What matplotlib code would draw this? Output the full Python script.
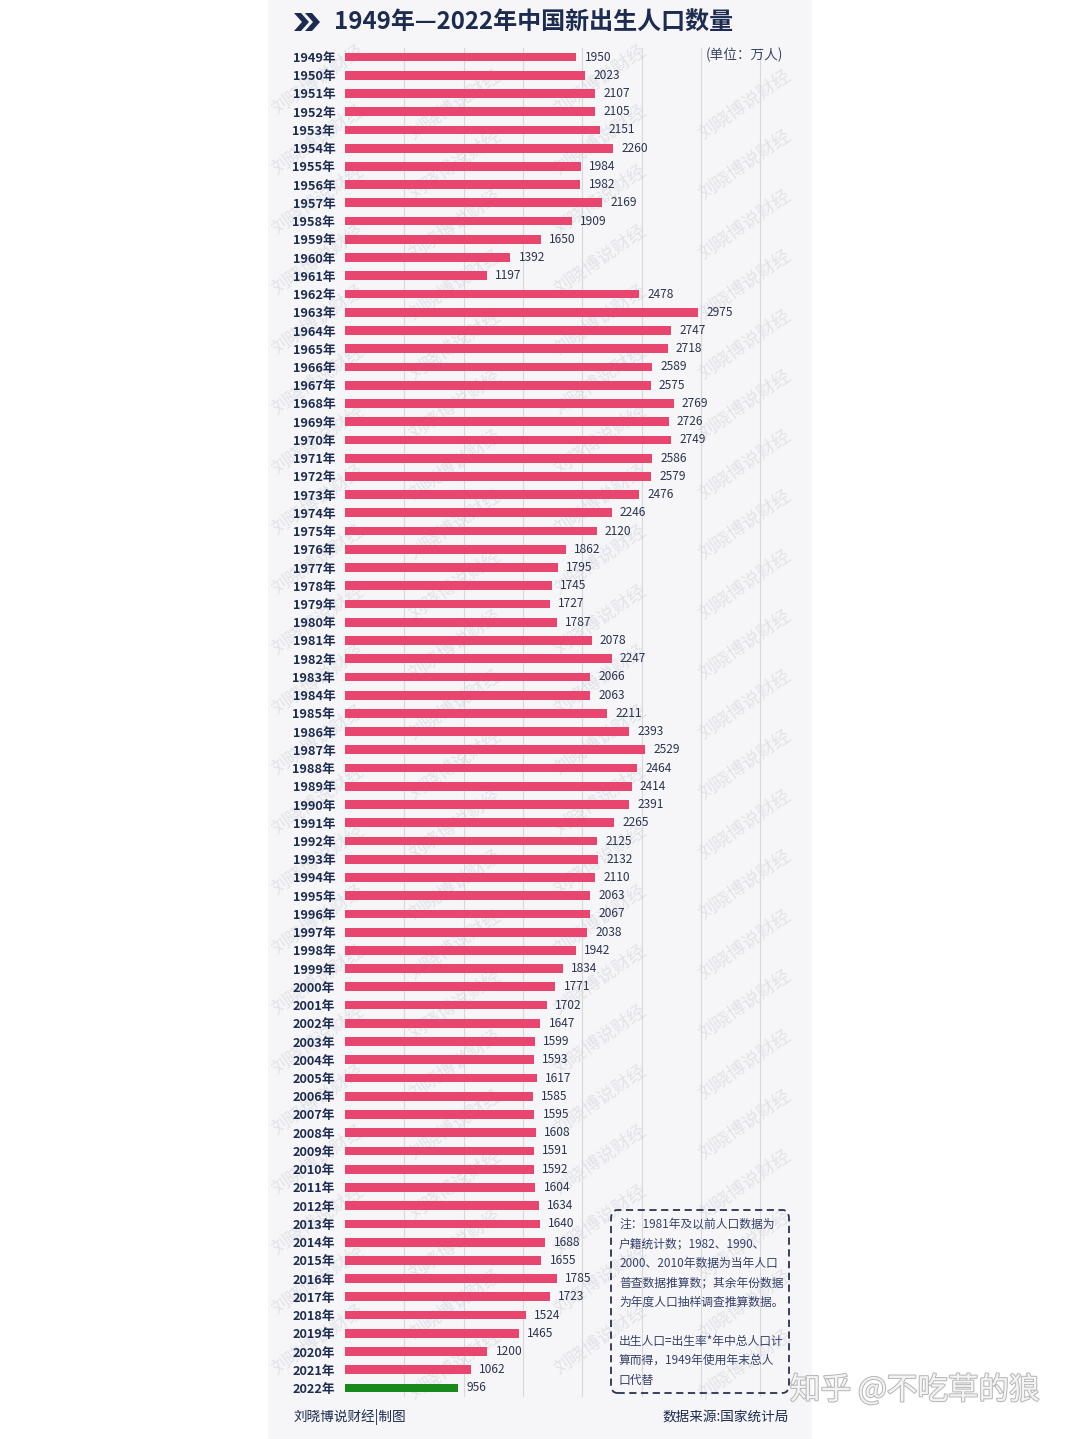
import matplotlib.pyplot as plt
import matplotlib.patheffects as pe
from matplotlib.patches import Rectangle, Polygon, FancyBboxPatch

plt.rcParams['font.family'] = ['Noto Sans CJK SC', 'DejaVu Sans']

years = list(range(1949, 2023))
births = [1950, 2023, 2107, 2105, 2151, 2260, 1984, 1982, 2169, 1909,
          1650, 1392, 1197, 2478, 2975, 2747, 2718, 2589, 2575, 2769,
          2726, 2749, 2586, 2579, 2476, 2246, 2120, 1862, 1795, 1745,
          1727, 1787, 2078, 2247, 2066, 2063, 2211, 2393, 2529, 2464,
          2414, 2391, 2265, 2125, 2132, 2110, 2063, 2067, 2038, 1942,
          1834, 1771, 1702, 1647, 1599, 1593, 1617, 1585, 1595, 1608,
          1591, 1592, 1604, 1634, 1640, 1688, 1655, 1785, 1723, 1524,
          1465, 1200, 1062, 956]
year_labels = [f'{y}年' for y in years]
grid_ticks = [500, 1000, 1500, 2000, 2500, 3000, 3500]

note_lines = ['注：1981年及以前人口数据为',
              '户籍统计数；1982、1990、',
              '2000、2010年数据为当年人口',
              '普查数据推算数；其余年份数据',
              '为年度人口抽样调查推算数据。',
              '',
              '出生人口=出生率*年中总人口计',
              '算而得，1949年使用年末总人',
              '口代替']

W, H = 1080, 1439
navy = '#1c2b4f'
pink = '#e8456f'
green = '#188a1c'

fig = plt.figure(figsize=(W / 100, H / 100), dpi=100)
fig.patch.set_facecolor('white')

def fx(px):
    return px / W

def fy(py):
    return 1 - py / H

# light panel
fig.patches.append(Rectangle((fx(268), 0), fx(544), 1, transform=fig.transFigure,
                             facecolor='#f6f6f8', edgecolor='none', zorder=0))

# faint diagonal watermarks
for col, x0 in enumerate([318, 455, 600, 745]):
    for k in range(25):
        y0 = 80 + k * 60 + (col % 2) * 25
        if y0 > 1370:
            continue
        fig.text(fx(x0), fy(y0), '刘晓博说财经', fontsize=13, color='#d9dbe2',
                 rotation=35, ha='center', va='center', zorder=1, alpha=0.7)

top_px, bot_px = 57 - 9.1, 1388 + 9.1
left_px, right_px = 345, 790
ax = fig.add_axes([fx(left_px), fy(bot_px), fx(right_px - left_px), (bot_px - top_px) / H])
ax.set_facecolor('none')
ax.set_zorder(2)

n = len(years)
colors = [pink] * (n - 1) + [green]
ax.barh(range(n), births, height=0.48, color=colors, edgecolor='none', zorder=3)
for i, v in enumerate(births):
    ax.text(v + 70, i, str(v), fontsize=8.6, color='#2a3350', va='center', ha='left', zorder=4)

for g in grid_ticks:
    ax.axvline(g, color='#d8d8dc', lw=0.8, zorder=1)

ax.set_xlim(0, (right_px - left_px) / 0.1187)
ax.set_ylim(n - 0.5, -0.5)
ax.set_yticks(range(n))
ax.set_yticklabels(year_labels, fontsize=9.2, color=navy, fontweight='bold')
ax.tick_params(axis='y', length=0, pad=7)
ax.set_xticks([])
for s in ax.spines.values():
    s.set_visible(False)

# title with chevron icon
for dx in (0, 11):
    x = 294 + dx
    pts = [(x, 13), (x + 7, 13), (x + 15, 22), (x + 7, 31), (x, 31), (x + 8, 22)]
    fig.patches.append(Polygon([(fx(a), fy(b)) for a, b in pts], closed=True,
                               transform=fig.transFigure, facecolor=navy, edgecolor='none'))
fig.text(fx(334), fy(22), '1949年—2022年中国新出生人口数量', fontsize=17.3,
         fontweight='bold', color=navy, ha='left', va='center')
fig.text(fx(706), fy(55), '(单位：万人)', fontsize=9.8, color='#3a4566', ha='left', va='center')

# note box
fig.patches.append(FancyBboxPatch((fx(611), fy(1393)), fx(178), (1393 - 1210) / H,
                                  boxstyle='round,pad=0,rounding_size=0.006',
                                  transform=fig.transFigure, facecolor='none',
                                  edgecolor='#2a3350', lw=1.3, ls=(0, (4, 2.5)), zorder=5))
for j, line in enumerate(note_lines):
    fig.text(fx(619), fy(1224 + j * 19.5), line, fontsize=8.5, color='#34406a',
             ha='left', va='center', zorder=6)

fig.text(fx(293), fy(1417), '刘晓博说财经|制图', fontsize=9.8, color=navy, ha='left', va='center')
fig.text(fx(789), fy(1417), '数据来源:国家统计局', fontsize=9.8, color=navy, ha='right', va='center')

wm = fig.text(fx(790), fy(1390), '知乎 @不吃草的狼', fontsize=22, color='#f4f4f4',
              ha='left', va='center', zorder=7)
wm.set_path_effects([pe.withStroke(linewidth=1.5, foreground='#b8b8b8')])

fig.savefig('out.png', dpi=100, facecolor=fig.get_facecolor())
